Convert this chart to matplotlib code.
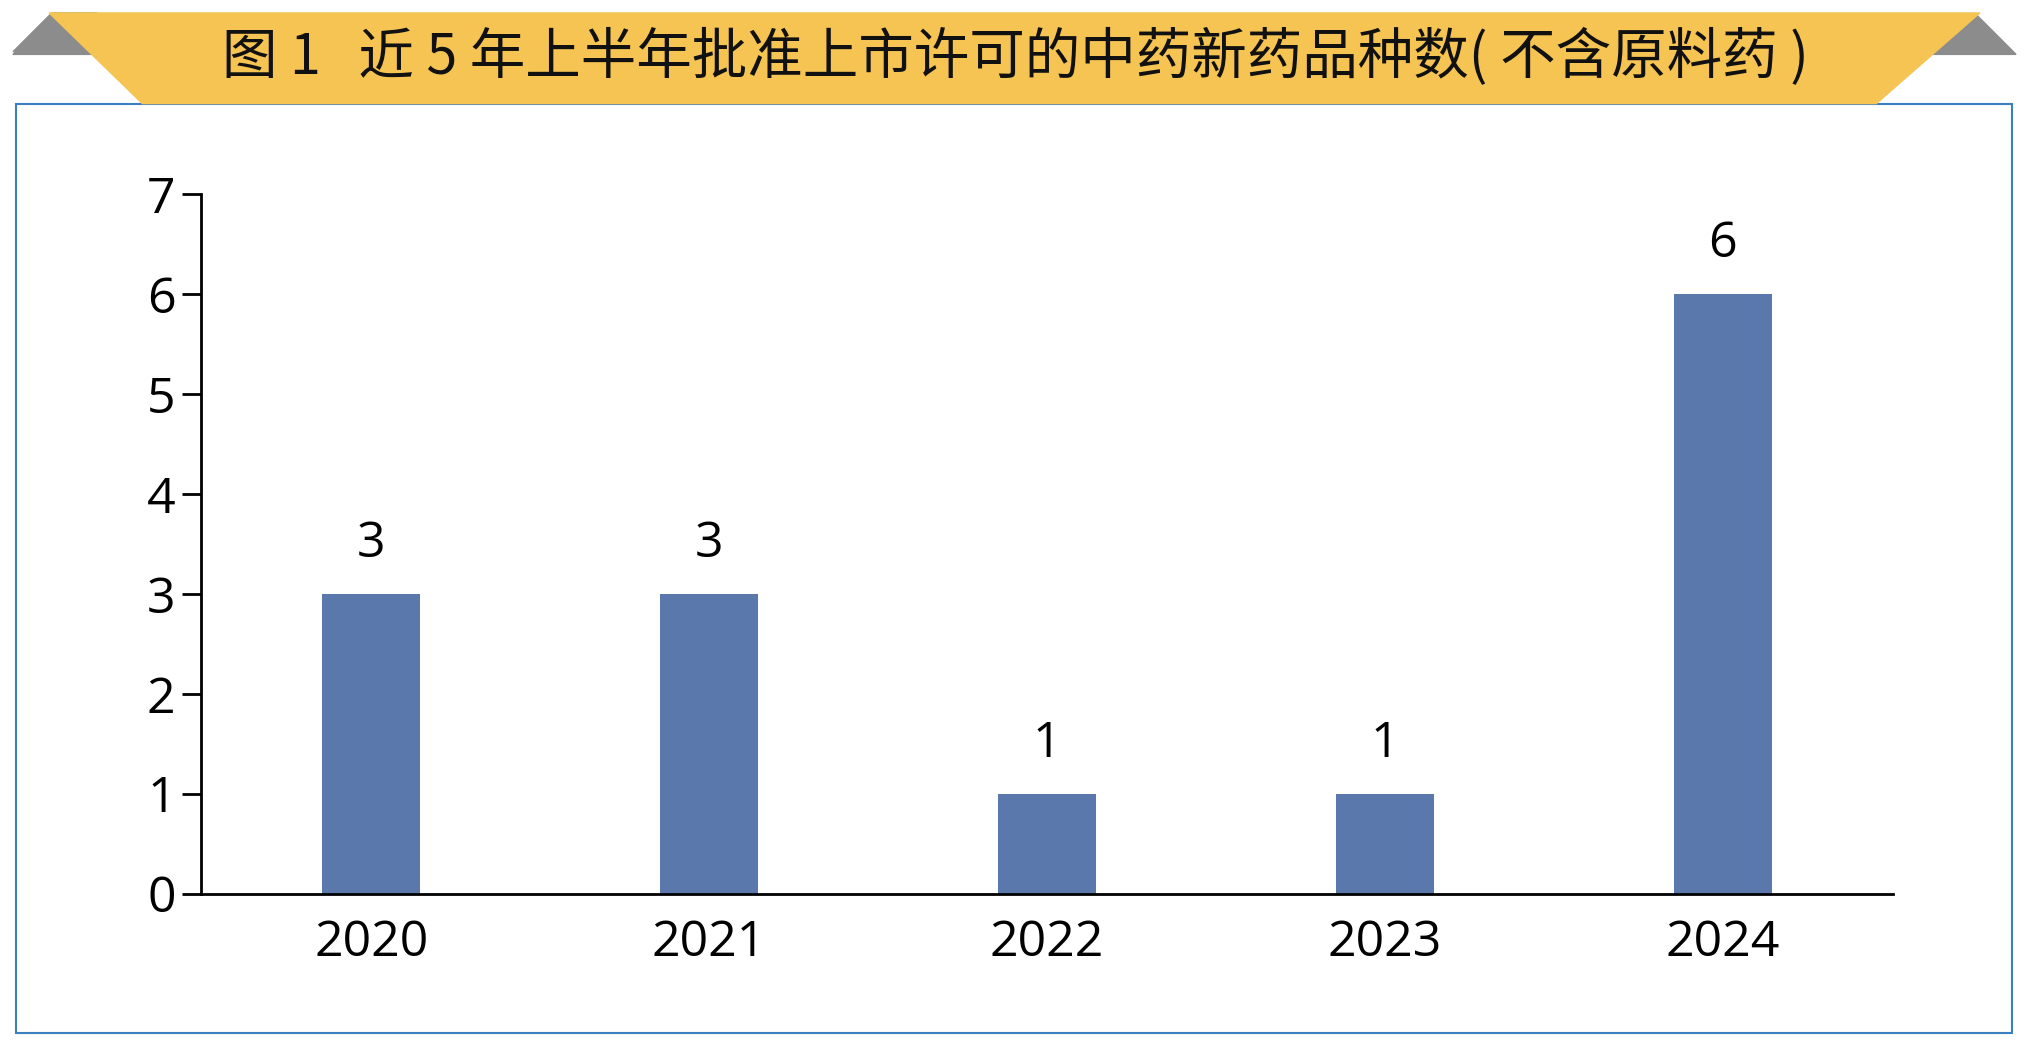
import matplotlib
matplotlib.use("Agg")
import matplotlib.pyplot as plt
from matplotlib.patches import Polygon, Rectangle

years = ["2020", "2021", "2022", "2023", "2024"]
counts = [3, 3, 1, 1, 6]
title = "图 1   近 5 年上半年批准上市许可的中药新药品种数( 不含原料药 )"

plt.rcParams['font.family'] = ['Noto Sans CJK SC', 'DejaVu Sans']
W, H = 2029, 1049
fig = plt.figure(figsize=(W/100, H/100), dpi=100)

def fx(x): return x/1568
def fy(y): return 1 - y/810

# border box
fig.patches.append(Rectangle((fx(12), fy(798)), fx(1555)-fx(12), fy(80)-fy(798),
                             transform=fig.transFigure, fill=False, edgecolor='#3C7FC0', lw=1.5))
# gray corners
fig.patches.append(Polygon([(fx(10), fy(40)), (fx(40), fy(10)), (fx(75), fy(10)), (fx(10), fy(40)), (fx(10), fy(40))],
                           closed=True, transform=fig.transFigure, color='#8C8C8C'))
fig.patches.append(Polygon([(fx(10), fy(42)), (fx(40), fy(12)), (fx(90), fy(12)), (fx(100), fy(42))],
                           closed=True, transform=fig.transFigure, color='#8C8C8C'))
fig.patches.append(Polygon([(fx(1558), fy(42)), (fx(1528), fy(12)), (fx(1478), fy(12)), (fx(1468), fy(42))],
                           closed=True, transform=fig.transFigure, color='#8C8C8C'))
# yellow banner
fig.patches.append(Polygon([(fx(38), fy(10)), (fx(1530), fy(10)), (fx(1450), fy(80)), (fx(110), fy(80))],
                           closed=True, transform=fig.transFigure, color='#F5C453'))
fig.text(fx(785), fy(45), title, ha='center', va='center', fontsize=40, color='#111111')

ax = fig.add_axes([fx(155), fy(690), fx(1463)-fx(155), fy(150)-fy(690)])
x = range(len(years))
bars = ax.bar(x, counts, width=0.29, color='#5B78AC')
for xi, c in zip(x, counts):
    ax.text(xi, c + 0.25, str(c), ha='center', va='bottom', fontsize=36, family=['Open Sans'])
ax.set_xlim(-0.505, 4.505)
ax.set_ylim(0, 7)
ax.set_xticks(list(x))
ax.set_xticklabels(years, fontsize=36, family=['Open Sans'])
ax.set_yticks(range(8))
ax.set_yticklabels([str(i) for i in range(8)], fontsize=36, family=['Open Sans'])
ax.tick_params(axis='x', length=0, pad=18)
ax.tick_params(axis='y', length=14, width=2, pad=4, direction='out')
for s in ['top', 'right']:
    ax.spines[s].set_visible(False)
ax.spines['left'].set_linewidth(2)
ax.spines['bottom'].set_linewidth(2)
fig.savefig("out.png", dpi=100)
